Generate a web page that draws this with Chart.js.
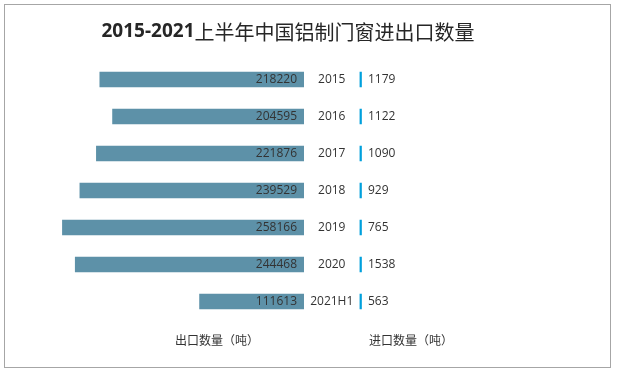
<!DOCTYPE html>
<html>
<head>
<meta charset="utf-8">
<script src="https://cdn.jsdelivr.net/npm/chart.js@4"></script>
<style>
  html,body{margin:0;padding:0;background:#fff}
  #wrap{position:relative;width:618px;height:374px}
  #frame{position:absolute;left:4px;top:4px;width:607px;height:364px;border:1px solid #a6a6a6;box-sizing:border-box}
  #c{position:absolute;left:0;top:0}
</style>
</head>
<body>
<div id="wrap">
  <div id="frame"></div>
  <canvas id="c" width="618" height="374"></canvas>
</div>
<script>
/* ── DATA ─────────────────────────────────────────────── */
const years     = ['2015','2016','2017','2018','2019','2020','2021H1'];
const exportQty = [218220,204595,221876,239529,258166,244468,111613];
const importQty = [1179,1122,1090,929,765,1538,563];
const titleNum  = '2015-2021';
const titleText = '上半年中国铝制门窗进出口数量';
const exportAxisName = '出口数量（吨）';
const importAxisName = '进口数量（吨）';

/* ── LABELS / TITLE PLUGIN ────────────────────────────── */
const labelPlugin = {
  id:'butterflyLabels',
  afterDatasetsDraw(chart){
    const ctx = chart.ctx;
    const exp = chart.getDatasetMeta(0).data;
    const imp = chart.getDatasetMeta(1).data;
    const gap = chart.scales.xGap;
    const midX = (gap.left + gap.right) / 2;
    ctx.save();
    ctx.textBaseline = 'middle';
    ctx.fillStyle = '#333';
    ctx.font = '12px "Open Sans", sans-serif';
    exp.forEach((bar,i)=>{
      ctx.textAlign = 'right';
      ctx.fillText(exportQty[i], bar.base - 7, bar.y);
      ctx.textAlign = 'center';
      ctx.fillText(years[i], midX, bar.y);
    });
    imp.forEach((bar,i)=>{
      ctx.textAlign = 'left';
      ctx.fillText(importQty[i], bar.base + 8.5, bar.y);
    });

    // bottom names
    ctx.font = '12px "Noto Sans CJK SC", sans-serif';
    ctx.textAlign = 'center';
    ctx.fillText(exportAxisName, 217, 340);
    ctx.fillText(importAxisName, 411, 340);

    // title: bold latin + chinese
    ctx.fillStyle = '#262626';
    const f1 = 'bold 19px "Noto Sans", sans-serif';
    const f2 = '20px "Noto Sans CJK SC", sans-serif';
    ctx.font = f1; const w1 = ctx.measureText(titleNum).width;
    ctx.font = f2; const w2 = ctx.measureText(titleText).width;
    let x0 = 288 - (w1 + w2) / 2;
    ctx.textAlign = 'left';
    ctx.font = f1; ctx.fillText(titleNum, x0, 32);
    ctx.font = f2; ctx.fillText(titleText, x0 + w1, 32);
    ctx.restore();
  }
};

/* ── CHART ────────────────────────────────────────────── */
new Chart(document.getElementById('c'), {
  type:'bar',
  data:{
    labels: years,
    datasets:[
      { label:exportAxisName, data:exportQty, xAxisID:'xL', backgroundColor:'#5d91a8', barThickness:15, grouped:false },
      { label:importAxisName, data:importQty, xAxisID:'xR', backgroundColor:'#00a0dc', barThickness:15, minBarLength:2, grouped:false }
    ]
  },
  options:{
    indexAxis:'y',
    responsive:false, animation:false,
    layout:{ padding:{ left:42, right:18, top:61, bottom:54 } },
    plugins:{ legend:{display:false}, tooltip:{enabled:false} },
    scales:{
      y:    { display:false, grid:{display:false} },
      xL:   { type:'linear', position:'bottom', stack:'row', stackWeight:262,   reverse:true, min:0, max:280000, display:false },
      xGap: { type:'linear', position:'bottom', stack:'row', stackWeight:55.5,  min:0, max:1, display:false },
      xR:   { type:'linear', position:'bottom', stack:'row', stackWeight:240.5, min:0, max:257000, display:false }
    }
  },
  plugins:[labelPlugin]
});
</script>
</body>
</html>
